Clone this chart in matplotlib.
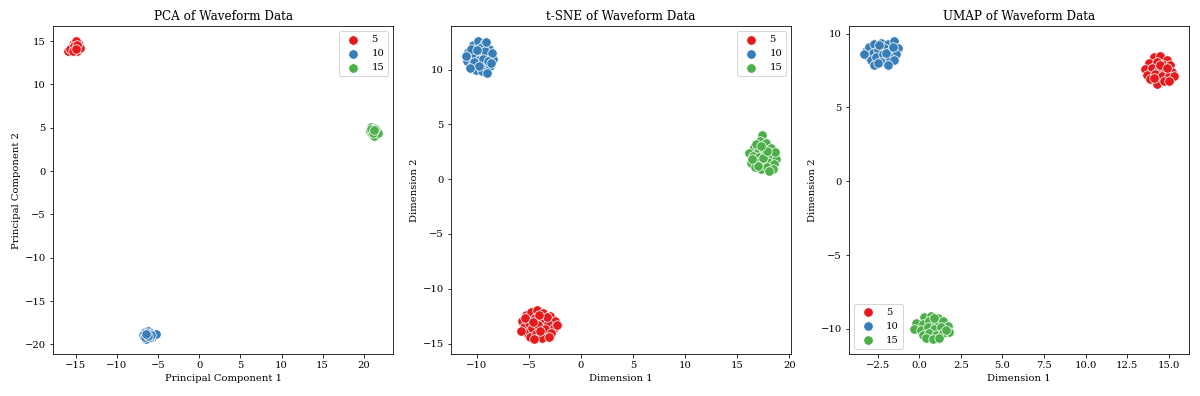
import matplotlib
matplotlib.use("Agg")
import matplotlib.pyplot as plt
from matplotlib.ticker import MultipleLocator

plt.rcParams["font.family"] = "serif"

labels = ["5", "10", "15"]
colors = ["#e41a1c", "#377eb8", "#4daf4a"]

# PCA clusters (x, y)
pca_5 = [(-15.2, 14.5), (-14.8, 14.9), (-15.6, 13.9), (-15.0, 14.2), (-14.6, 14.4),
         (-15.4, 14.7), (-15.9, 13.8), (-14.9, 14.1), (-15.3, 14.0), (-14.7, 14.8),
         (-15.1, 14.6), (-15.5, 14.3), (-14.8, 13.9), (-15.0, 15.0), (-15.7, 14.1),
         (-14.5, 14.2), (-15.2, 14.4), (-14.9, 14.6), (-15.4, 13.8), (-15.0, 14.1)]
pca_10 = [(-6.6, -18.6), (-6.2, -18.5), (-5.9, -18.7), (-6.8, -18.9), (-6.4, -19.0),
          (-6.0, -19.0), (-6.7, -19.2), (-6.3, -19.3), (-5.8, -19.1), (-6.5, -19.4),
          (-6.1, -18.8), (-5.2, -18.8), (-6.4, -18.7), (-6.0, -19.2), (-6.6, -19.1),
          (-5.9, -18.9), (-6.2, -19.0), (-6.5, -18.8)]
pca_15 = [(20.9, 5.1), (21.3, 5.0), (21.1, 4.8), (21.5, 4.7), (20.8, 4.6),
          (21.2, 4.5), (21.6, 4.5), (21.0, 4.3), (21.3, 4.1), (21.7, 4.4),
          (20.9, 4.9), (21.4, 4.8), (21.1, 4.4), (21.2, 4.7)]

# t-SNE clusters
tsne_5 = [(-5.7, -12.9), (-5.3, -12.4), (-4.8, -12.1), (-4.2, -11.9), (-3.6, -12.2),
          (-3.0, -12.5), (-2.5, -12.9), (-5.5, -13.5), (-5.0, -13.1), (-4.4, -12.7),
          (-3.8, -12.8), (-3.2, -13.2), (-2.6, -13.6), (-5.2, -14.0), (-4.7, -13.6),
          (-4.1, -13.3), (-3.5, -13.7), (-2.9, -14.0), (-4.9, -14.4), (-4.3, -14.1),
          (-3.7, -14.5), (-3.1, -14.4), (-5.8, -13.9), (-4.5, -14.6), (-3.3, -12.6),
          (-2.3, -13.3), (-4.0, -12.4), (-3.9, -13.9), (-5.4, -12.7), (-4.6, -13.0)]
tsne_10 = [(-10.8, 11.6), (-10.4, 12.2), (-9.9, 12.6), (-9.3, 12.3), (-8.8, 11.9),
           (-10.2, 11.3), (-9.6, 11.5), (-9.0, 11.1), (-8.4, 11.0), (-10.9, 10.8),
           (-10.5, 10.4), (-9.8, 10.9), (-9.3, 10.5), (-8.7, 10.3), (-10.1, 10.0),
           (-9.5, 9.9), (-9.0, 9.7), (-10.6, 11.9), (-9.7, 12.0), (-9.2, 11.7),
           (-8.5, 11.5), (-11.0, 11.2), (-10.3, 10.7), (-9.4, 11.0), (-8.9, 10.8),
           (-10.0, 11.8), (-9.8, 10.3), (-9.1, 12.5), (-10.7, 10.1), (-8.6, 10.6)]
tsne_15 = [(17.4, 4.0), (17.2, 3.5), (17.8, 3.3), (18.2, 2.8), (16.6, 2.9),
           (17.0, 2.6), (17.6, 2.7), (16.1, 2.4), (16.5, 2.1), (17.1, 2.0),
           (17.7, 2.2), (18.3, 2.1), (18.7, 1.8), (16.3, 1.5), (16.9, 1.6),
           (17.4, 1.4), (18.0, 1.6), (18.5, 1.4), (16.7, 1.1), (17.3, 0.9),
           (17.9, 1.1), (18.4, 0.9), (18.1, 0.7), (16.8, 3.2), (17.5, 1.9),
           (18.6, 2.5), (17.0, 1.2), (17.9, 2.6), (16.4, 1.8), (17.3, 3.0)]

# UMAP clusters
umap_5 = [(14.1, 8.4), (14.5, 8.5), (14.9, 8.2), (13.8, 8.0), (14.3, 8.1),
          (14.7, 7.9), (15.1, 7.9), (13.6, 7.6), (14.0, 7.7), (14.4, 7.6),
          (14.8, 7.5), (15.2, 7.4), (13.7, 7.2), (14.2, 7.3), (14.6, 7.1),
          (15.0, 7.1), (15.3, 7.1), (13.9, 6.9), (14.3, 6.6), (14.7, 6.8),
          (15.0, 6.8), (14.5, 7.9), (14.1, 7.0), (14.9, 7.7)]
umap_10 = [(-3.2, 8.8), (-3.0, 9.1), (-2.7, 9.3), (-2.3, 9.4), (-1.9, 9.3),
           (-1.5, 9.5), (-1.3, 9.0), (-3.1, 8.5), (-2.8, 8.7), (-2.5, 8.9),
           (-2.1, 9.0), (-1.7, 8.8), (-1.4, 8.6), (-2.9, 8.2), (-2.6, 8.4),
           (-2.2, 8.6), (-1.8, 8.4), (-1.5, 8.2), (-2.7, 7.9), (-2.3, 8.1),
           (-1.9, 7.9), (-2.0, 8.7), (-2.4, 9.2), (-1.6, 9.1), (-3.3, 8.6),
           (-2.5, 8.0)]
umap_15 = [(0.3, -9.2), (0.7, -9.1), (1.1, -9.3), (-0.2, -9.6), (0.2, -9.7),
           (0.6, -9.5), (1.0, -9.6), (1.4, -9.5), (1.7, -9.8), (-0.3, -10.0),
           (0.1, -10.1), (0.5, -9.9), (0.9, -10.0), (1.3, -9.9), (1.8, -10.2),
           (0.2, -10.4), (0.6, -10.3), (1.0, -10.4), (1.4, -10.3), (0.4, -10.6),
           (0.8, -10.7), (1.2, -10.6), (1.6, -10.1), (0.9, -9.3)]

panels = [
    ("PCA of Waveform Data", "Principal Component 1", "Principal Component 2",
     [pca_5, pca_10, pca_15], "upper right"),
    ("t-SNE of Waveform Data", "Dimension 1", "Dimension 2",
     [tsne_5, tsne_10, tsne_15], "upper right"),
    ("UMAP of Waveform Data", "Dimension 1", "Dimension 2",
     [umap_5, umap_10, umap_15], "lower left"),
]

fig, axes = plt.subplots(1, 3, figsize=(1200 / 72, 396 / 72))

for ax, (title, xlab, ylab, clusters, loc) in zip(axes, panels):
    for pts, lab, col in zip(clusters, labels, colors):
        xs = [p[0] for p in pts]
        ys = [p[1] for p in pts]
        ax.scatter(xs, ys, s=90, color=col, edgecolors="white",
                   linewidths=0.75, label=lab)
    ax.set_title(title)
    ax.set_xlabel(xlab)
    ax.set_ylabel(ylab)
    ax.legend(loc=loc)

# UMAP y axis uses whole-number steps of 5
axes[2].yaxis.set_major_locator(MultipleLocator(5))

plt.tight_layout()
plt.savefig("out.png", dpi=72)
